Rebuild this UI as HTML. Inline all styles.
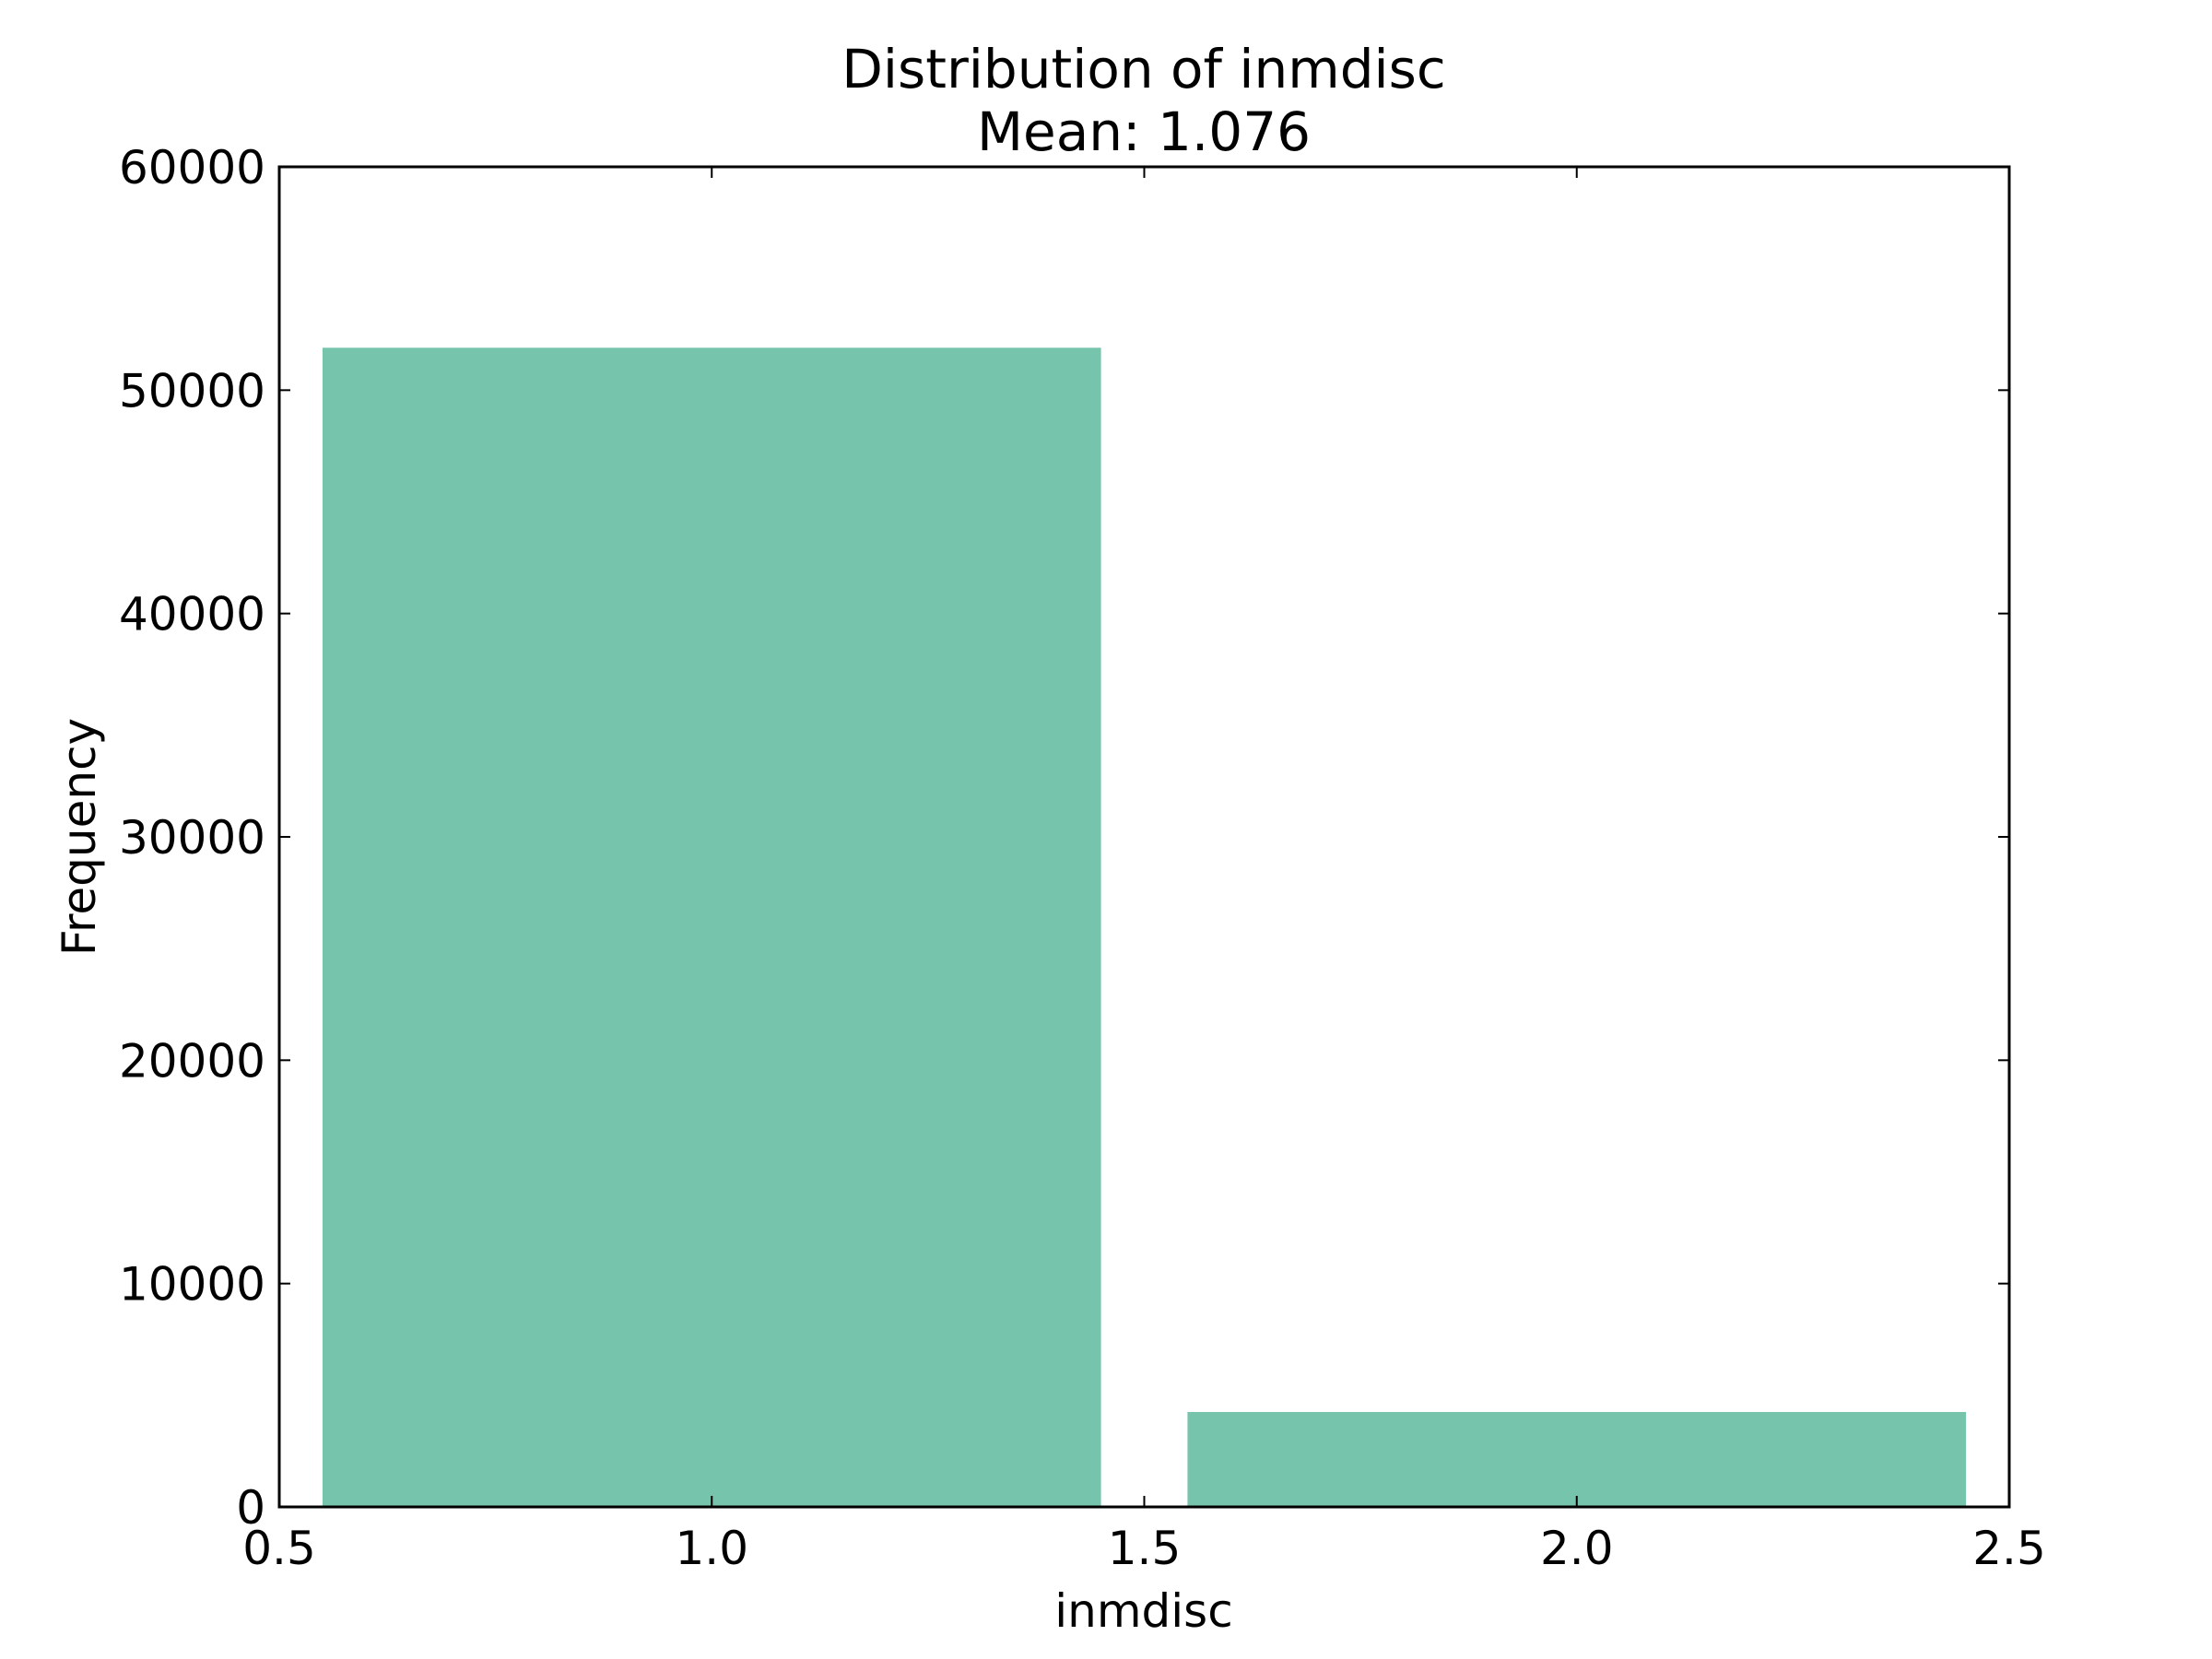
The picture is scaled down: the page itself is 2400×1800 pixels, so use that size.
<!DOCTYPE html>
<html><head><meta charset="utf-8"><style>body{margin:0;background:#fff}svg{display:block}text{font-family:"DejaVu Sans","Liberation Sans",sans-serif;fill:#000}</style></head>
<body>
<svg id="chart" width="2400" height="1800" viewBox="0 0 2400 1800" xmlns="http://www.w3.org/2000/svg">
<rect width="2400" height="1800" fill="#fff"/>
<g id="bars"></g>
<g id="ticks"></g>
<rect x="303" y="181" width="1877" height="1454" fill="none" stroke="#000" stroke-width="3"/>
<text x="1241" y="95" font-size="58" text-anchor="middle">Distribution of inmdisc</text>
<text x="1241" y="163" font-size="58" text-anchor="middle">Mean: 1.076</text>
<text x="1241" y="1765" font-size="50" text-anchor="middle">inmdisc</text>
<text x="0" y="0" font-size="50" text-anchor="middle" transform="translate(103,908) rotate(-90)">Frequency</text>
</svg>
<script>
const binStarts = [0.55, 1.55];
const binEnds = [1.45, 2.45];
const counts = [51900, 4250];
const xTicks = [0.5, 1.0, 1.5, 2.0, 2.5];
const xTickLabels = ["0.5", "1.0", "1.5", "2.0", "2.5"];
const yTicks = [0, 10000, 20000, 30000, 40000, 50000, 60000];
const yTickLabels = ["0", "10000", "20000", "30000", "40000", "50000", "60000"];
const L=303,R=2180,T=181,B=1635;
const x=v=>L+(v-0.5)/2*(R-L);
const y=v=>B-v/60000*(B-T);
const NS="http://www.w3.org/2000/svg";
const bars=document.getElementById('bars'), ticks=document.getElementById('ticks');
function mk(tag,attrs,parent){const e=document.createElementNS(NS,tag);for(const k in attrs)e.setAttribute(k,attrs[k]);parent.appendChild(e);return e;}
counts.forEach((c,i)=>{
  const r=mk('rect',{x:x(binStarts[i]),y:y(c),width:x(binEnds[i])-x(binStarts[i]),height:B-y(c),fill:'#77c4ad'},bars);
  
  
});
xTicks.forEach((v,i)=>{
  const X=x(v);
  mk('line',{x1:X,x2:X,y1:B,y2:B-12,stroke:'#000','stroke-width':2},ticks);
  mk('line',{x1:X,x2:X,y1:T,y2:T+12,stroke:'#000','stroke-width':2},ticks);
  const t=mk('text',{x:X,y:1697,'font-size':50,'text-anchor':'middle'},ticks);
  t.textContent=xTickLabels[i];
  
  
});
yTicks.forEach((v,i)=>{
  const Y=y(v);
  mk('line',{x1:L,x2:L+12,y1:Y,y2:Y,stroke:'#000','stroke-width':2},ticks);
  mk('line',{x1:R,x2:R-12,y1:Y,y2:Y,stroke:'#000','stroke-width':2},ticks);
  const t=mk('text',{x:288,y:Y+18,'font-size':50,'text-anchor':'end'},ticks);
  t.textContent=yTickLabels[i];
  
  
});
</script>
</body></html>
